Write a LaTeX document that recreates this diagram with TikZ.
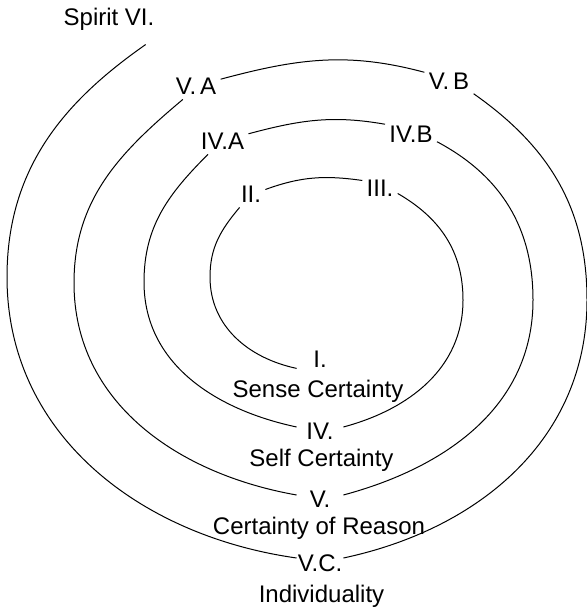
\documentclass[tikz,border=0pt]{standalone}
\usepackage{fontspec}
\setmainfont{Liberation Sans}
\usepackage{tikz}
\usetikzlibrary{positioning}

\begin{document}
\begin{tikzpicture}[
			x=0.5pt, y=0.5pt,
			font=\fontsize{12}{14}\selectfont,
			lbl/.style={inner sep=2pt, anchor=base},
			stage/.style={inner sep=0pt, anchor=base, minimum width=23pt,
				text height=13pt, text depth=0pt},
			arc/.style={line width=0.5pt}
			]
			\useasboundingbox (0,0) rectangle (586,610);

			\node[lbl] (spirit) at (109,584) {Spirit VI.};
			\node[lbl] (va) at (196,515) {V.\,A};
			\node[lbl] (vb) at (449,520) {V.\,B};
			\node[lbl] (iva) at (222.5,460) {IV.A};
			\node[lbl] (ivb) at (411,467) {IV.B};
			\node[lbl] (ii) at (251,407) {II.};
			\node[lbl] (iii) at (380,413) {III.};

			\node[stage] (i) at (320,242) {I.};
			\node[lbl] (sense) at (318,212) {Sense Certainty};
			\node[stage] (iv) at (320,170) {IV.};
			\node[lbl] (self) at (321.5,143) {Self Certainty};
			\node[stage] (v) at (320,102) {V.};
			\node[lbl] (reason) at (319,75) {Certainty of Reason};
			\node[stage] (vc) at (320,39) {V.C.};
			\node[lbl] (indiv) at (321.5,7) {Individuality};

			\draw[arc] (i.south west) to[out=168,in=-90] (210,333) to[out=90,in=-130] (ii.-132);
			\draw[arc] (ii.20) to[out=20,in=172] (iii.155);
			\draw[arc] (iii.-15) to[out=-30,in=90] (463,310) to[out=-90,in=15] (iv.east);
			\draw[arc] (iv.west) to[out=168,in=-90] (144,328) to[out=90,in=-135] (iva.-139);
			\draw[arc] (iva.17) to[out=15,in=170] (ivb.158);
			\draw[arc] (ivb.-15) to[out=-28,in=90] (533,310) to[out=-90,in=15] (v.east);
			\draw[arc] (v.west) to[out=170,in=-90] (74,327) to[out=90,in=-140] (va.-136);
			\draw[arc] (va.17) to[out=15,in=165] (vb.159);
			\draw[arc] (vb.-26) to[out=-35,in=90] (587,310) to[out=-90,in=12] (vc.east);
			\draw[arc, shorten >=8pt] (vc.west) to[out=172,in=-90] (7,333) to[out=90,in=-145] (spirit.south east);

		\end{tikzpicture}
\end{document}
